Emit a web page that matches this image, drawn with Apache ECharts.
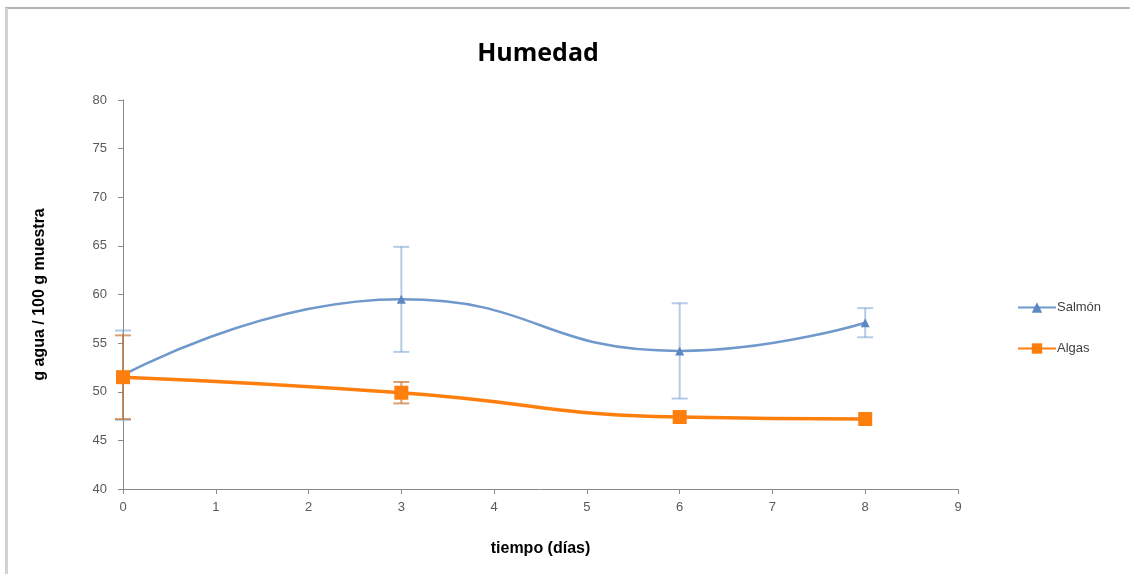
<!DOCTYPE html>
<html><head><meta charset="utf-8">
<script src="https://cdn.jsdelivr.net/npm/echarts@6/dist/echarts.min.js"></script>
<style>html,body{margin:0;padding:0;background:#fff}#c{width:1130px;height:574px}</style>
</head><body><div id="c"></div>
<script>
const days = [0, 3, 6, 8];
const salmon = [51.7, 59.5, 54.2, 57.1];
const salmonErr = [4.6, 5.4, 4.9, 1.5];
const algas = [51.5, 49.9, 47.4, 47.2];
const algasErr = [4.3, 1.1, 0, 0];
const xTicks = [0, 9, 1];
const yTicks = [40, 80, 5];

const chart = echarts.init(document.getElementById('c'));
function errSeries(name, vals, errs, color) {
  return {
    type: 'custom', name: name + ' err', silent: true, z: 1,
    data: days.map((d, i) => [d, vals[i] - errs[i], vals[i] + errs[i]]),
    renderItem: function (params, api) {
      if (api.value(2) - api.value(1) < 0.01) return null;
      const lo = api.coord([api.value(0), api.value(1)]);
      const hi = api.coord([api.value(0), api.value(2)]);
      const w = 8;
      const st = { stroke: color, lineWidth: 2 };
      return { type: 'group', children: [
        { type: 'line', shape: { x1: lo[0], y1: lo[1], x2: hi[0], y2: hi[1] }, style: st },
        { type: 'line', shape: { x1: lo[0] - w, y1: lo[1], x2: lo[0] + w, y2: lo[1] }, style: st },
        { type: 'line', shape: { x1: hi[0] - w, y1: hi[1], x2: hi[0] + w, y2: hi[1] }, style: st }
      ]};
    }
  };
}
const axisLabel = { color: '#595959', fontSize: 13, fontFamily: 'Liberation Sans' };
chart.setOption({
  animation: false,
  title: { text: 'Humedad', left: 533, top: 36, textAlign: 'center',
    textStyle: { fontSize: 25, fontWeight: 'bold', color: '#000', fontFamily: 'Open Sans' } },
  graphic: [
    { type: 'line', shape: { x1: 5, y1: 8, x2: 1130, y2: 8 }, style: { stroke: '#b4b4b4', lineWidth: 2 }, silent: true },
    { type: 'line', shape: { x1: 6.5, y1: 8, x2: 6.5, y2: 574 }, style: { stroke: '#d2d2d2', lineWidth: 3 }, silent: true }
  ],
  grid: { left: 123, right: 172, top: 100, bottom: 85 },
  legend: { orient: 'vertical', left: 1017, top: 301, padding: 0, itemGap: 28, itemWidth: 38, itemHeight: 13,
    data: ['Salmón', 'Algas'], textStyle: { color: '#404040', fontSize: 13, fontFamily: 'Liberation Sans', padding: [0, 0, 0, -4] } },
  xAxis: { type: 'value', min: xTicks[0], max: xTicks[1], interval: xTicks[2],
    name: 'tiempo (días)', nameLocation: 'middle', nameGap: 52,
    nameTextStyle: { fontSize: 16, fontWeight: 'bold', color: '#000', fontFamily: 'Liberation Sans' },
    axisLine: { lineStyle: { color: '#898989', width: 1 } },
    axisTick: { show: true, length: 5, lineStyle: { color: '#898989' } },
    axisLabel: Object.assign({ margin: 12 }, axisLabel), splitLine: { show: false } },
  yAxis: { type: 'value', min: yTicks[0], max: yTicks[1], interval: yTicks[2],
    name: 'g agua / 100 g muestra', nameLocation: 'middle', nameGap: 75, nameRotate: 90,
    nameTextStyle: { fontSize: 16, fontWeight: 'bold', color: '#000', fontFamily: 'Liberation Sans' },
    axisLine: { show: true, lineStyle: { color: '#898989', width: 1 } },
    axisTick: { show: true, length: 5, lineStyle: { color: '#898989' } },
    axisLabel: Object.assign({ margin: 16 }, axisLabel), splitLine: { show: false } },
  series: [
    errSeries('Salmón', salmon, salmonErr, 'rgba(120,160,210,0.55)'),
    errSeries('Algas', algas, algasErr, 'rgba(200,110,40,0.65)'),
    { name: 'Salmón', type: 'line', data: days.map((d, i) => [d, salmon[i]]), smooth: 0.5, z: 3,
      symbol: 'triangle', symbolSize: 9, lineStyle: { color: '#6f98cc', width: 2.5 },
      itemStyle: { color: '#5b87c2' } },
    { name: 'Algas', type: 'line', data: days.map((d, i) => [d, algas[i]]), smooth: 0.5, z: 4,
      symbol: 'rect', symbolSize: 14, lineStyle: { color: '#ff7f0e', width: 3.5 },
      itemStyle: { color: '#ff7f0e' } }
  ]
});
</script></body></html>
